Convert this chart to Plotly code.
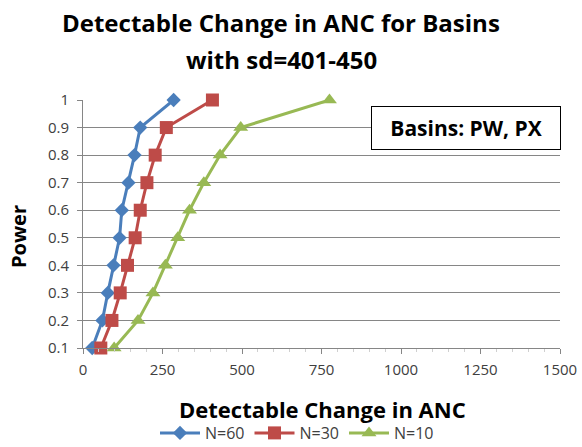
import plotly.graph_objects as go

power = [0.1, 0.2, 0.3, 0.4, 0.5, 0.6, 0.7, 0.8, 0.9, 1.0]
change_n60 = [29, 61, 78, 96, 115, 122, 143, 162, 180, 285]
change_n30 = [56, 91, 117, 140, 164, 180, 201, 227, 262, 407]
change_n10 = [98, 173, 220, 259, 298, 335, 380, 431, 496, 775]

x_ticks = [0, 250, 500, 750, 1000, 1250, 1500]
y_ticks = [0.1, 0.2, 0.3, 0.4, 0.5, 0.6, 0.7, 0.8, 0.9, 1.0]
y_labels = ["0.1", "0.2", "0.3", "0.4", "0.5", "0.6", "0.7", "0.8", "0.9", "1"]

font = "Open Sans"
W, H = 582, 447
L, R, T, B = 83, 22, 100, 99
pw, ph = W - L - R, H - T - B

fig = go.Figure()
series = [
    ("N=60", change_n60, "#4A7EBB", "diamond", 11),
    ("N=30", change_n30, "#BE4B48", "square", 13),
    ("N=10", change_n10, "#98B954", "triangle-up", 13),
]
for name, xs, color, symbol, size in series:
    fig.add_trace(go.Scatter(
        x=xs, y=power, name=name, mode="lines+markers",
        line=dict(color=color, width=3),
        marker=dict(symbol=symbol, size=size, color=color),
        cliponaxis=False,
    ))


def px_x(px):
    """Paper x for a pixel column of the page."""
    return (px - L) / pw


def px_y(px):
    """Paper y for a pixel row measured from the top of the page."""
    return (H - px - B) / ph


annotations = [
    dict(text="<b>Detectable Change in ANC for Basins</b>",
         x=px_x(281), y=px_y(22), font=dict(size=24, color="black")),
    dict(text="<b>with sd=401-450</b>",
         x=px_x(281), y=px_y(60), font=dict(size=24, color="black")),
    dict(text="<b>Detectable Change in ANC</b>",
         x=px_x(322), y=px_y(409), font=dict(size=22, color="black")),
    dict(text="<b>Power</b>", textangle=-90,
         x=px_x(18), y=px_y(237), font=dict(size=20, color="black")),
]
for a in annotations:
    a.update(xref="paper", yref="paper", showarrow=False,
             xanchor="center", yanchor="middle")

annotations.append(dict(
    text="<b>Basins: PW, PX</b>", xref="paper", yref="paper",
    x=px_x(561), y=px_y(106), xanchor="right", yanchor="top",
    width=188, height=42, align="center", valign="middle",
    showarrow=False, font=dict(size=21, color="black"),
    bgcolor="white", bordercolor="black", borderwidth=1, borderpad=0,
))

fig.update_layout(
    width=W, height=H,
    margin=dict(l=L, r=R, t=T, b=B, autoexpand=False),
    paper_bgcolor="white", plot_bgcolor="white",
    font=dict(family=font, color="#404040"),
    xaxis=dict(
        range=[0, 1500], tickvals=x_ticks, showgrid=False,
        showline=True, linecolor="#868686", linewidth=1,
        ticks="outside", ticklen=5, tickcolor="#868686",
        minor=dict(ticks="outside", ticklen=3, tickcolor="#D0D0D0", dtick=50),
        tickfont=dict(size=15, color="#404040"), ticklabelstandoff=3,
        zeroline=False, automargin=False,
    ),
    yaxis=dict(
        range=[0.1, 1.0], tickvals=y_ticks, ticktext=y_labels,
        showgrid=True, gridcolor="#868686", gridwidth=1,
        showline=True, linecolor="#868686", linewidth=1,
        ticks="outside", ticklen=5, tickcolor="#868686",
        tickfont=dict(size=15, color="#404040"), ticklabelstandoff=5,
        zeroline=False, automargin=False,
    ),
    legend=dict(
        orientation="h", x=px_x(297), xanchor="center",
        y=px_y(433), yanchor="middle",
        font=dict(size=16, color="#404040"), itemwidth=40,
        tracegroupgap=0, bgcolor="rgba(0,0,0,0)",
    ),
    annotations=annotations,
)

fig.write_html("out.html")
